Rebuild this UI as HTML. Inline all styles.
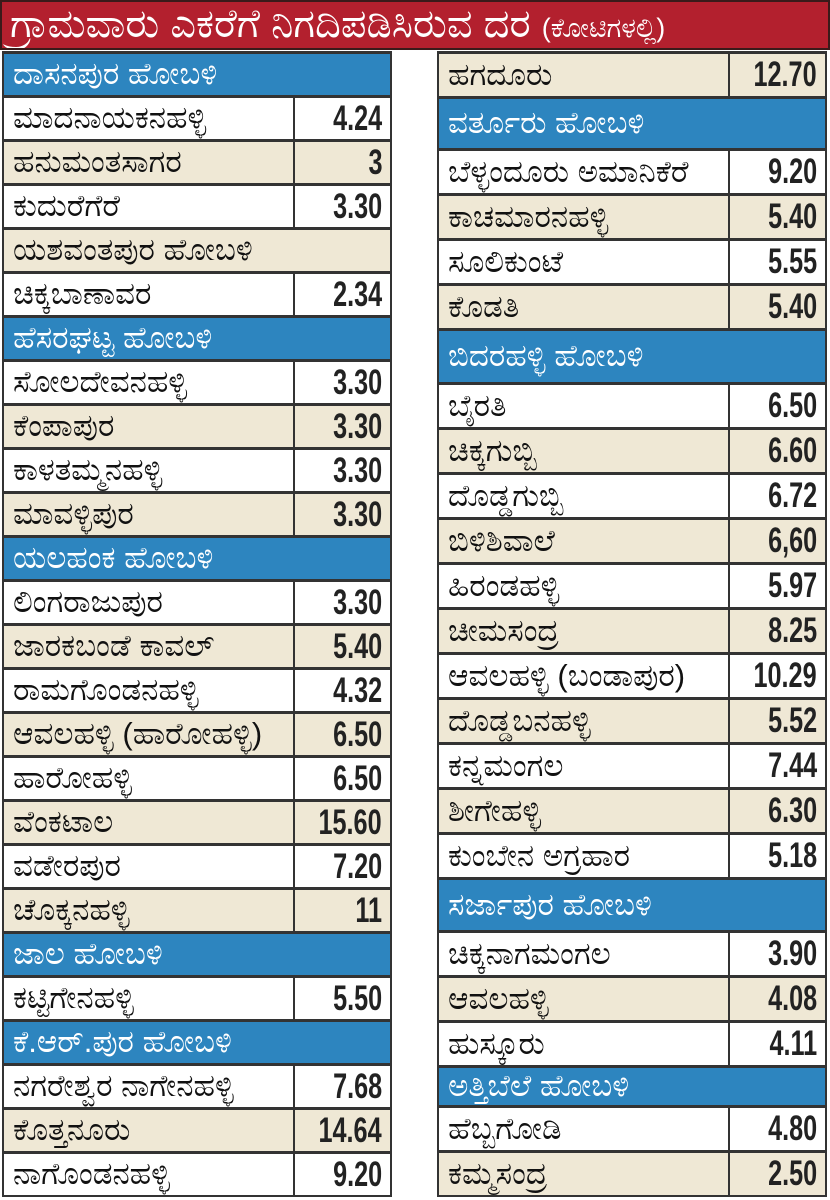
<!DOCTYPE html>
<html><head><meta charset="utf-8"><style>
*{margin:0;padding:0;box-sizing:border-box}
body{width:830px;height:1200px;background:#fff;position:relative;overflow:hidden;font-family:"Liberation Sans","Noto Sans CJK JP",sans-serif}
.title{position:absolute;left:0;top:0;width:830px;height:50px;background:#b3202e;border:2px solid #3a1a1a;color:#fff;font-size:40px;line-height:44px;padding-left:8px;white-space:nowrap;overflow:hidden}
.title small{font-size:27px}
.col{position:absolute;display:flex;flex-direction:column;border:2px solid #333;border-top:none}
.r{display:flex;border-top:3px solid #333;flex:1 1 0;min-height:0}
.r .n{flex:1;padding-left:9px;font-size:31px;display:flex;align-items:center;white-space:nowrap;overflow:hidden;color:#111}
.r .v{width:97px;border-left:2px solid #333;display:flex;align-items:center;justify-content:flex-end;padding-right:8px;font-weight:bold;font-size:35px;color:#222}
.v span{display:inline-block;transform:scaleX(0.72);transform-origin:right center}
.w{background:#fff}.b{background:#efe8d5}
.h{background:#2d85bf}.h .n{color:#fff}
</style></head><body>
<div class="title">ಗ್ರಾಮವಾರು ಎಕರೆಗೆ ನಿಗದಿಪಡಿಸಿರುವ ದರ <small>(ಕೋಟಿಗಳಲ್ಲಿ)</small></div>

<div class="col" style="left:2px;top:51px;width:390px;height:1146px">
<div class="r h"><div class="n">ದಾಸನಪುರ ಹೋಬಳಿ</div></div>
<div class="r w"><div class="n">ಮಾದನಾಯಕನಹಳ್ಳಿ</div><div class="v"><span>4.24</span></div></div>
<div class="r b"><div class="n">ಹನುಮಂತಸಾಗರ</div><div class="v"><span>3</span></div></div>
<div class="r w"><div class="n">ಕುದುರೆಗೆರೆ</div><div class="v"><span>3.30</span></div></div>
<div class="r b"><div class="n">ಯಶವಂತಪುರ ಹೋಬಳಿ</div></div>
<div class="r w"><div class="n">ಚಿಕ್ಕಬಾಣಾವರ</div><div class="v"><span>2.34</span></div></div>
<div class="r h"><div class="n">ಹೆಸರಘಟ್ಟ ಹೋಬಳಿ</div></div>
<div class="r w"><div class="n">ಸೋಲದೇವನಹಳ್ಳಿ</div><div class="v"><span>3.30</span></div></div>
<div class="r b"><div class="n">ಕೆಂಪಾಪುರ</div><div class="v"><span>3.30</span></div></div>
<div class="r w"><div class="n">ಕಾಳತಮ್ಮನಹಳ್ಳಿ</div><div class="v"><span>3.30</span></div></div>
<div class="r b"><div class="n">ಮಾವಳ್ಳಿಪುರ</div><div class="v"><span>3.30</span></div></div>
<div class="r h"><div class="n">ಯಲಹಂಕ ಹೋಬಳಿ</div></div>
<div class="r w"><div class="n">ಲಿಂಗರಾಜುಪುರ</div><div class="v"><span>3.30</span></div></div>
<div class="r b"><div class="n">ಜಾರಕಬಂಡೆ ಕಾವಲ್</div><div class="v"><span>5.40</span></div></div>
<div class="r w"><div class="n">ರಾಮಗೊಂಡನಹಳ್ಳಿ</div><div class="v"><span>4.32</span></div></div>
<div class="r b"><div class="n">ಆವಲಹಳ್ಳಿ (ಹಾರೋಹಳ್ಳಿ)</div><div class="v"><span>6.50</span></div></div>
<div class="r w"><div class="n">ಹಾರೋಹಳ್ಳಿ</div><div class="v"><span>6.50</span></div></div>
<div class="r b"><div class="n">ವೆಂಕಟಾಲ</div><div class="v"><span>15.60</span></div></div>
<div class="r w"><div class="n">ವಡೇರಪುರ</div><div class="v"><span>7.20</span></div></div>
<div class="r b"><div class="n">ಚೊಕ್ಕನಹಳ್ಳಿ</div><div class="v"><span>11</span></div></div>
<div class="r h"><div class="n">ಜಾಲ ಹೋಬಳಿ</div></div>
<div class="r w"><div class="n">ಕಟ್ಟಿಗೇನಹಳ್ಳಿ</div><div class="v"><span>5.50</span></div></div>
<div class="r h"><div class="n">ಕೆ.ಆರ್.ಪುರ ಹೋಬಳಿ</div></div>
<div class="r w"><div class="n">ನಗರೇಶ್ವರ ನಾಗೇನಹಳ್ಳಿ</div><div class="v"><span>7.68</span></div></div>
<div class="r b"><div class="n">ಕೊತ್ತನೂರು</div><div class="v"><span>14.64</span></div></div>
<div class="r w"><div class="n">ನಾಗೊಂಡನಹಳ್ಳಿ</div><div class="v"><span>9.20</span></div></div>
</div>

<div class="col" style="left:437px;top:51px;width:390px;height:1146px">
<div class="r b"><div class="n">ಹಗದೂರು</div><div class="v"><span>12.70</span></div></div>
<div class="r h" style="flex:0 0 52px"><div class="n">ವರ್ತೂರು ಹೋಬಳಿ</div></div>
<div class="r w"><div class="n">ಬೆಳ್ಳಂದೂರು ಅಮಾನಿಕೆರೆ</div><div class="v"><span>9.20</span></div></div>
<div class="r b"><div class="n">ಕಾಚಮಾರನಹಳ್ಳಿ</div><div class="v"><span>5.40</span></div></div>
<div class="r w"><div class="n">ಸೂಲಿಕುಂಟೆ</div><div class="v"><span>5.55</span></div></div>
<div class="r b"><div class="n">ಕೊಡತಿ</div><div class="v"><span>5.40</span></div></div>
<div class="r h" style="flex:0 0 54px"><div class="n">ಬಿದರಹಳ್ಳಿ ಹೋಬಳಿ</div></div>
<div class="r w"><div class="n">ಬೈರತಿ</div><div class="v"><span>6.50</span></div></div>
<div class="r b"><div class="n">ಚಿಕ್ಕಗುಬ್ಬಿ</div><div class="v"><span>6.60</span></div></div>
<div class="r w"><div class="n">ದೊಡ್ಡಗುಬ್ಬಿ</div><div class="v"><span>6.72</span></div></div>
<div class="r b"><div class="n">ಬಿಳಿಶಿವಾಲೆ</div><div class="v"><span>6,60</span></div></div>
<div class="r w"><div class="n">ಹಿರಂಡಹಳ್ಳಿ</div><div class="v"><span>5.97</span></div></div>
<div class="r b"><div class="n">ಚೀಮಸಂದ್ರ</div><div class="v"><span>8.25</span></div></div>
<div class="r w"><div class="n">ಆವಲಹಳ್ಳಿ (ಬಂಡಾಪುರ)</div><div class="v"><span>10.29</span></div></div>
<div class="r b"><div class="n">ದೊಡ್ಡಬನಹಳ್ಳಿ</div><div class="v"><span>5.52</span></div></div>
<div class="r w"><div class="n">ಕನ್ನಮಂಗಲ</div><div class="v"><span>7.44</span></div></div>
<div class="r b"><div class="n">ಶೀಗೇಹಳ್ಳಿ</div><div class="v"><span>6.30</span></div></div>
<div class="r w"><div class="n">ಕುಂಬೇನ ಅಗ್ರಹಾರ</div><div class="v"><span>5.18</span></div></div>
<div class="r h" style="flex:0 0 53px"><div class="n">ಸರ್ಜಾಪುರ ಹೋಬಳಿ</div></div>
<div class="r w"><div class="n">ಚಿಕ್ಕನಾಗಮಂಗಲ</div><div class="v"><span>3.90</span></div></div>
<div class="r b"><div class="n">ಆವಲಹಳ್ಳಿ</div><div class="v"><span>4.08</span></div></div>
<div class="r w"><div class="n">ಹುಸ್ಕೂರು</div><div class="v"><span>4.11</span></div></div>
<div class="r h" style="flex:0 0 40px"><div class="n">ಅತ್ತಿಬೆಲೆ ಹೋಬಳಿ</div></div>
<div class="r w"><div class="n">ಹೆಬ್ಬಗೋಡಿ</div><div class="v"><span>4.80</span></div></div>
<div class="r b"><div class="n">ಕಮ್ಮಸಂದ್ರ</div><div class="v"><span>2.50</span></div></div>
</div>
</body></html>
